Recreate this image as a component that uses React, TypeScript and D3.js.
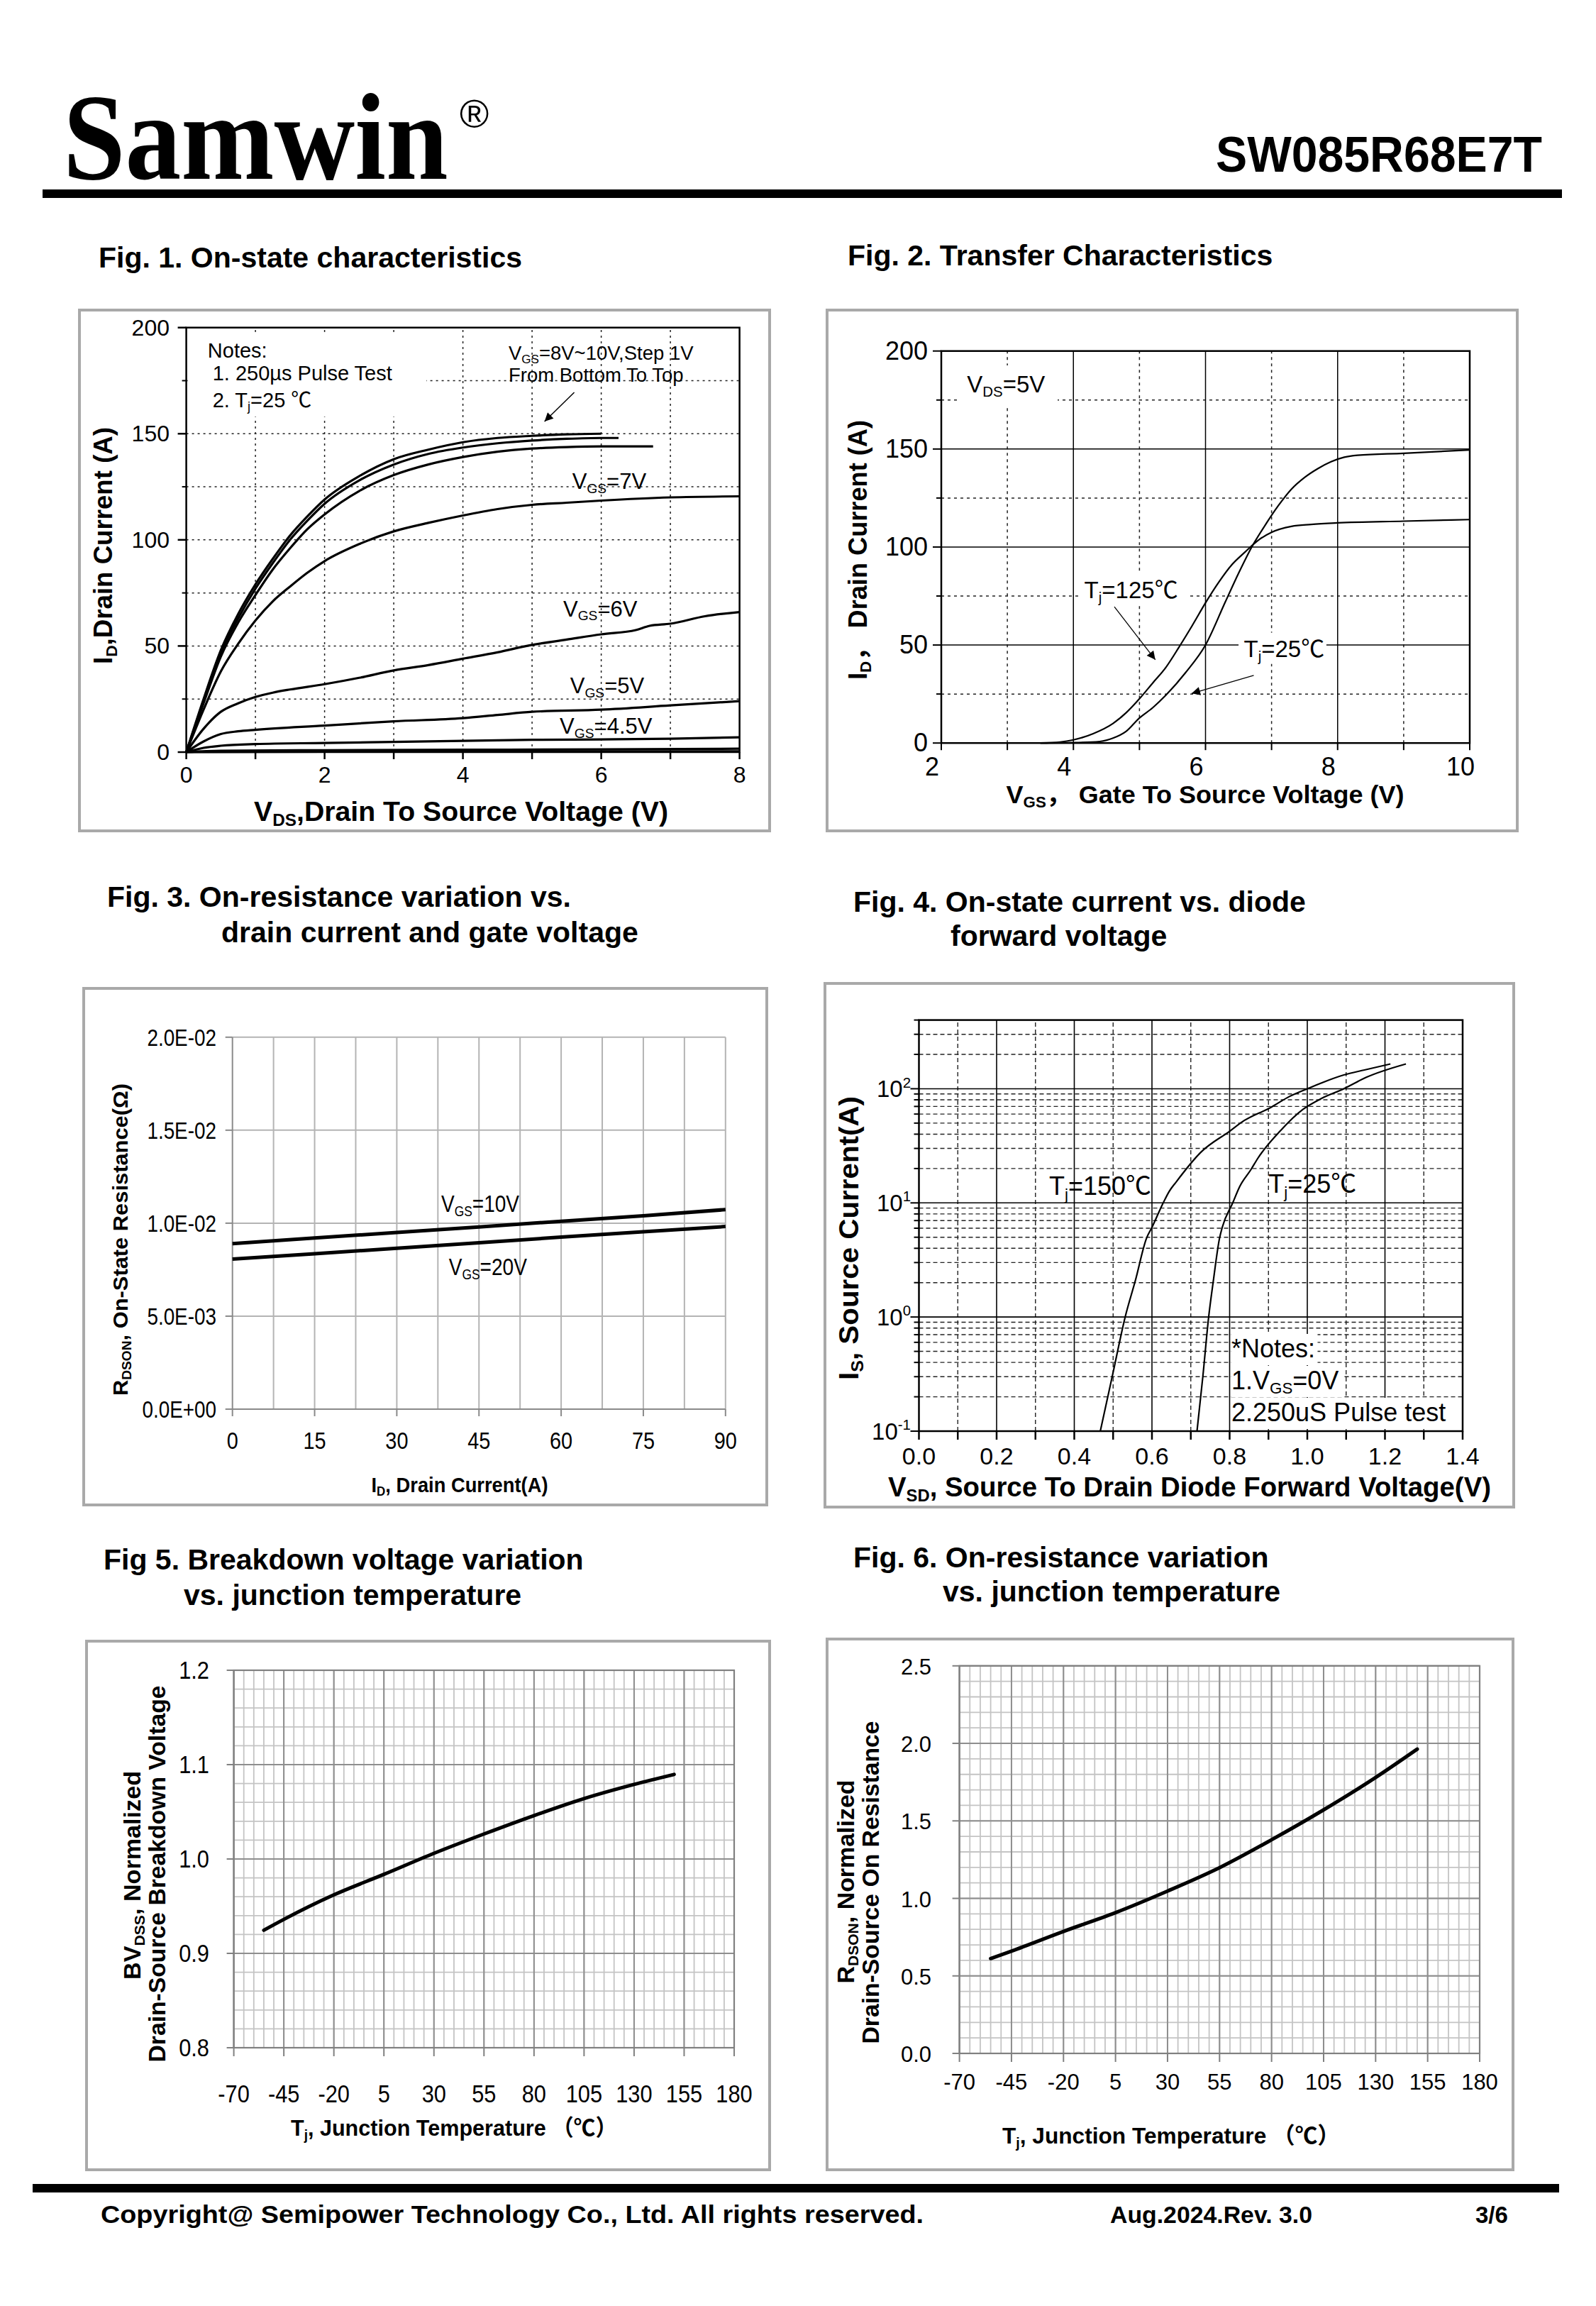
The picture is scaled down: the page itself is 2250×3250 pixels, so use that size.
import React from 'react';
import * as d3 from 'd3';

const SANS = "'Liberation Sans', Arial, 'Noto Sans CJK SC', sans-serif";
const SERIF = "'Liberation Serif', 'Times New Roman', serif";

type Seg = { t: string; s?: 'sub' | 'sup' };
type Pt = number[];

// ---------------- Fig. 1 : On-state characteristics (VDS V, ID A) ----------------
const fig1XTicks = [0, 2, 4, 6, 8];
const fig1YTicks = [0, 50, 100, 150, 200];
const fig1Vgs10: Pt[] = [[0,0],[0.25,25],[0.5,48],[0.75,65],[1,79],[1.25,91],[1.5,102],[1.75,111],[2,119],[2.5,130],[3,138],[3.5,142.5],[4,146],[4.5,148],[5,149],[5.5,149.7],[6,150]];
const fig1Vgs9: Pt[] = [[0,0],[0.25,24],[0.5,47],[0.75,63],[1,77],[1.25,89],[1.5,100],[1.75,109],[2,117],[2.5,128],[3,135.5],[3.5,140.5],[4,143.5],[4.5,145.5],[5,146.8],[5.5,147.6],[6,148],[6.25,148]];
const fig1Vgs8: Pt[] = [[0,0],[0.25,23],[0.5,45],[0.75,61],[1,74],[1.25,86],[1.5,96],[1.75,105],[2,112],[2.5,123],[3,130.5],[3.5,135.5],[4,139],[4.5,141.5],[5,143],[5.5,143.7],[6,144],[6.75,144]];
const fig1Vgs7: Pt[] = [[0,0],[0.25,20],[0.5,38],[0.75,51],[1,62],[1.25,71],[1.5,78],[1.75,84.5],[2,90],[2.5,98],[3,104],[3.5,108],[4,111.5],[4.5,114.5],[5,116.5],[5.5,117.5],[6,118.5],[7,120],[8,120.5]];
const fig1Vgs6: Pt[] = [[0,0],[0.25,11],[0.5,19],[0.75,23],[1,26],[1.25,28],[1.5,29.5],[2,32],[2.5,35],[3,38.5],[3.5,41],[4,44],[4.5,47],[5,50.5],[5.5,53],[6,55.5],[6.5,57.5],[6.7,59.5],[7,60.5],[7.5,64],[8,66]];
const fig1Vgs5: Pt[] = [[0,0],[0.25,5],[0.5,8.5],[0.75,9.8],[1,10.5],[2,12.5],[3,14.5],[4,16],[4.5,17.5],[5,19],[6,20],[7,22],[8,24]];
const fig1Vgs45: Pt[] = [[0,0],[0.25,2],[0.5,3],[1,3.8],[2,4.3],[3,4.8],[4,5.3],[5,5.8],[6,6],[7,6.3],[8,7]];
const fig1Vgs4: Pt[] = [[0,0],[0.5,0.6],[2,0.9],[4,1.1],[6,1.3],[8,1.6]];
const fig1Vgs35: Pt[] = [[0,0],[2,0.2],[4,0.3],[8,0.4]];
const fig1Curves = [fig1Vgs10, fig1Vgs9, fig1Vgs8, fig1Vgs7, fig1Vgs6, fig1Vgs5, fig1Vgs45, fig1Vgs4, fig1Vgs35];
const fig1CurveLabels = [
  { x: 5.58, y: 124, segs: [{ t: 'V' }, { t: 'GS', s: 'sub' }, { t: '=7V' }] as Seg[] },
  { x: 5.45, y: 64, segs: [{ t: 'V' }, { t: 'GS', s: 'sub' }, { t: '=6V' }] as Seg[] },
  { x: 5.55, y: 27.6, segs: [{ t: 'V' }, { t: 'GS', s: 'sub' }, { t: '=5V' }] as Seg[] },
  { x: 5.4, y: 8.7, segs: [{ t: 'V' }, { t: 'GS', s: 'sub' }, { t: '=4.5V' }] as Seg[] },
];
const fig1Notes = [
  { x: 0.31, y: 185.8, fs: 29, segs: [{ t: 'Notes:' }] as Seg[] },
  { x: 0.38, y: 175, fs: 29, segs: [{ t: '1. 250\u00b5s  Pulse Test' }] as Seg[] },
  { x: 0.38, y: 162.5, fs: 29, segs: [{ t: '2. T' }, { t: 'j', s: 'sub' }, { t: '=25 \u2103' }] as Seg[] },
  { x: 4.66, y: 184.8, fs: 27.5, segs: [{ t: 'V' }, { t: 'GS', s: 'sub' }, { t: '=8V~10V,Step 1V' }] as Seg[] },
  { x: 4.66, y: 174.5, fs: 27.5, segs: [{ t: 'From Bottom To Top' }] as Seg[] },
];
const fig1Arrow = [[5.61, 169.5], [5.18, 155.8]];

// ---------------- Fig. 2 : Transfer characteristics (VGS V, ID A) ----------------
const fig2XTicks = [2, 4, 6, 8, 10];
const fig2YTicks = [0, 50, 100, 150, 200];
const fig2Tj25: Pt[] = [[3.5,0],[4,0.2],[4.4,0.8],[4.6,2.5],[4.8,6],[5,12.8],[5.2,18],[5.4,24.4],[5.7,36],[6,50],[6.3,72],[6.5,86.6],[6.7,100],[6.9,111],[7.1,121],[7.3,129.5],[7.5,135.5],[7.7,140],[7.9,143.5],[8.1,145.8],[8.3,146.8],[9,147.8],[10,149.5]];
const fig2Tj125: Pt[] = [[3.5,0],[3.8,0.5],[4,1.6],[4.3,4.8],[4.6,10],[4.8,15.5],[5,22.6],[5.2,30.6],[5.4,38.6],[5.6,49],[5.8,60],[6,71.5],[6.2,82],[6.4,91],[6.6,97.5],[6.8,103.5],[7,107.5],[7.3,110.5],[7.6,111.5],[8,112.3],[9,113.2],[10,114]];
const fig2Labels = [
  { x: 2.39, y: 179, segs: [{ t: 'V' }, { t: 'DS', s: 'sub' }, { t: '=5V' }] as Seg[] },
  { x: 4.165, y: 73.8, segs: [{ t: 'T' }, { t: 'j', s: 'sub' }, { t: '=125\u2103' }] as Seg[] },
  { x: 6.58, y: 43.8, segs: [{ t: 'T' }, { t: 'j', s: 'sub' }, { t: '=25\u2103' }] as Seg[] },
];
const fig2Arrows = [[[4.62, 69.5], [5.24, 42.5]], [[6.73, 34.5], [5.79, 25.3]]];

// ---------------- Fig. 3 : RDS(on) vs ID (A, ohm) ----------------
const fig3XTicks = [0, 15, 30, 45, 60, 75, 90];
const fig3YTicks = [0, 0.005, 0.01, 0.015, 0.02];
const fig3YTickLabels = ['0.0E+00', '5.0E-03', '1.0E-02', '1.5E-02', '2.0E-02'];
const fig3Vgs10: Pt[] = [[0,0.0089],[15,0.0092],[30,0.0095],[45,0.0098],[60,0.0101],[75,0.0104],[90,0.01073]];
const fig3Vgs20: Pt[] = [[0,0.00807],[15,0.00836],[30,0.00865],[45,0.00895],[60,0.00925],[75,0.00954],[90,0.00982]];
const fig3Labels = [
  { x: 38.1, y: 0.0106, segs: [{ t: 'V' }, { t: 'GS', s: 'sub' }, { t: '=10V' }] as Seg[] },
  { x: 39.5, y: 0.00721, segs: [{ t: 'V' }, { t: 'GS', s: 'sub' }, { t: '=20V' }] as Seg[] },
];

// ---------------- Fig. 4 : body diode (VSD V, IS A log) ----------------
const fig4XTicks = [0, 0.2, 0.4, 0.6, 0.8, 1.0, 1.2, 1.4];
const fig4YDecades = [0.1, 1, 10, 100];
const fig4YExp = ['-1', '0', '1', '2'];
const fig4Tj150: Pt[] = [[0.467,0.1],[0.499,0.316],[0.531,1.0],[0.557,2.07],[0.586,4.9],[0.6,6.1],[0.629,10],[0.645,12.7],[0.662,15.2],[0.726,27.8],[0.802,42.9],[0.831,50.9],[0.907,68.9],[0.954,85.5],[1.0,100],[1.094,132],[1.147,146],[1.214,165]];
const fig4Tj25: Pt[] = [[0.716,0.1],[0.731,0.3],[0.746,1.0],[0.758,2.07],[0.774,4.9],[0.781,6.1],[0.808,10],[0.826,13.9],[0.855,19.6],[0.872,24.4],[0.931,42.9],[0.989,66],[1.036,82],[1.094,100],[1.152,126],[1.254,165]];
const fig4Labels = [
  { x: 0.335, y: 11.7, segs: [{ t: 'T' }, { t: 'j', s: 'sub' }, { t: '=150\u2103' }] as Seg[] },
  { x: 0.9, y: 12.2, segs: [{ t: 'T' }, { t: 'j', s: 'sub' }, { t: '=25\u2103' }] as Seg[] },
];
const fig4Notes = [
  { segs: [{ t: '*Notes:' }] as Seg[], w: 122 },
  { segs: [{ t: '1.V' }, { t: 'GS', s: 'sub' }, { t: '=0V' }] as Seg[], w: 158 },
  { segs: [{ t: '2.250uS Pulse test' }] as Seg[], w: 326 },
];

// ---------------- Fig. 5 : BVDSS vs Tj ----------------
const fig5XTicks = [-70, -45, -20, 5, 30, 55, 80, 105, 130, 155, 180];
const fig5YTicks = [0.8, 0.9, 1.0, 1.1, 1.2];
const fig5Curve: Pt[] = [[-55,0.9245],[-45,0.936],[-20,0.962],[5,0.9837],[30,1.006],[55,1.0265],[80,1.046],[105,1.064],[130,1.079],[150,1.0896]];

// ---------------- Fig. 6 : RDS(on) normalized vs Tj ----------------
const fig6XTicks = [-70, -45, -20, 5, 30, 55, 80, 105, 130, 155, 180];
const fig6YTicks = [0, 0.5, 1.0, 1.5, 2.0, 2.5];
const fig6Curve: Pt[] = [[-55,0.612],[-45,0.66],[-20,0.787],[5,0.908],[30,1.047],[55,1.198],[80,1.378],[105,1.571],[130,1.78],[150,1.963]];

// ---------------- helpers ----------------
function rich(list: Seg[], fs: number) {
  let shift = 0;
  return list.map((seg, i) => {
    const target = seg.s === 'sub' ? fs * 0.18 : seg.s === 'sup' ? -fs * 0.42 : 0;
    const dy = target - shift;
    shift = target;
    return (
      <tspan key={i} dy={dy} fontSize={seg.s ? fs * 0.62 : fs}>
        {seg.t}
      </tspan>
    );
  });
}

function RText(p: {
  x: number; y: number; segs: Seg[]; fs: number; anchor?: string; weight?: string;
  family?: string; rotate?: boolean; len?: number; sx?: number;
}) {
  const { x, y, segs, fs, anchor = 'start', weight = 'normal', family = SANS, rotate = false, len, sx = 1 } = p;
  const tf = rotate ? `translate(${x},${y}) rotate(-90)` : `translate(${x},${y}) scale(${sx},1)`;
  return (
    <text
      x={0}
      y={0}
      transform={tf}
      fontSize={fs}
      fontFamily={family}
      fontWeight={weight}
      textAnchor={anchor}
      textLength={len}
      lengthAdjust={len ? 'spacingAndGlyphs' : undefined}
      fill="#000"
    >
      {rich(segs, fs)}
    </text>
  );
}

function NText(p: { x: number; y: number; text: string; fs: number; anchor?: string; sx?: number }) {
  const { x, y, text, fs, anchor = 'start', sx = 1 } = p;
  return (
    <text x={0} y={0} transform={`translate(${x},${y}) scale(${sx},1)`} fontSize={fs} fontFamily={SANS} textAnchor={anchor} fill="#000">
      {text}
    </text>
  );
}

function Title({ x, y, text }: { x: number; y: number; text: string }) {
  return (
    <text x={x} y={y} fontSize={41} fontWeight="bold" fontFamily={SANS} fill="#000">
      {text}
    </text>
  );
}

function Frame({ x, y, w, h }: { x: number; y: number; w: number; h: number }) {
  return <rect x={x} y={y} width={w} height={h} fill="none" stroke="#a9a9a9" strokeWidth={4} />;
}

// ---------------- Fig 1 ----------------
function Fig1() {
  const x = d3.scaleLinear().domain([0, 8]).range([262.6, 1042.6]);
  const y = d3.scaleLinear().domain([0, 200]).range([1060, 461.7]);
  const line = d3.line<Pt>().x(d => x(d[0])).y(d => y(d[1])).curve(d3.curveMonotoneX);
  return (
    <g>
      <Title x={139} y={377} text="Fig. 1. On-state characteristics" />
      <Frame x={112} y={437} w={973} h={734} />
      {d3.range(1, 8).map(v => (
        <line key={'gx' + v} x1={x(v)} x2={x(v)} y1={y(0)} y2={y(200)} stroke="#222" strokeWidth={1.5} strokeDasharray="3 5" />
      ))}
      {d3.range(25, 200, 25).map(v => (
        <line key={'gy' + v} x1={x(0)} x2={x(8)} y1={y(v)} y2={y(v)} stroke="#222" strokeWidth={1.5} strokeDasharray="3 5" />
      ))}
      <rect x={x(0) + 2} y={y(196.5)} width={x(3.45) - x(0)} height={y(158) - y(196.5)} fill="#fff" />
      {fig1Curves.map((c, i) => (
        <path key={'c' + i} d={line(c) || ''} fill="none" stroke="#000" strokeWidth={3.2} />
      ))}
      <rect x={x(0)} y={y(200)} width={x(8) - x(0)} height={y(0) - y(200)} fill="none" stroke="#000" strokeWidth={2.5} />
      {fig1YTicks.map(v => (
        <g key={'yt' + v}>
          <line x1={x(0) - 12} x2={x(0)} y1={y(v)} y2={y(v)} stroke="#000" strokeWidth={2.5} />
          <text x={239} y={y(v) + 11} fontSize={32} fontFamily={SANS} textAnchor="end">{v}</text>
        </g>
      ))}
      {d3.range(25, 200, 50).map(v => (
        <line key={'ytm' + v} x1={x(0) - 6} x2={x(0)} y1={y(v)} y2={y(v)} stroke="#000" strokeWidth={2} />
      ))}
      {d3.range(0, 9).map(v => (
        <line key={'xt' + v} x1={x(v)} x2={x(v)} y1={y(0)} y2={y(0) + 10} stroke="#000" strokeWidth={2.5} />
      ))}
      {fig1XTicks.map(v => (
        <text key={'xl' + v} x={x(v)} y={1103} fontSize={32} fontFamily={SANS} textAnchor="middle">{v}</text>
      ))}
      {fig1CurveLabels.map((l, i) => (
        <RText key={'cl' + i} x={x(l.x)} y={y(l.y)} segs={l.segs} fs={31} />
      ))}
      {fig1Notes.map((l, i) => (
        <RText key={'n' + i} x={x(l.x)} y={y(l.y)} segs={l.segs} fs={l.fs} />
      ))}
      <line x1={x(fig1Arrow[0][0])} y1={y(fig1Arrow[0][1])} x2={x(fig1Arrow[1][0])} y2={y(fig1Arrow[1][1])} stroke="#000" strokeWidth={1.5} markerEnd="url(#ah)" />
      <RText x={158} y={769} rotate anchor="middle" weight="bold" fs={37} len={334}
        segs={[{ t: 'I' }, { t: 'D', s: 'sub' }, { t: ',Drain Current (A)' }]} />
      <RText x={650} y={1157} anchor="middle" weight="bold" fs={38} len={584}
        segs={[{ t: 'V' }, { t: 'DS', s: 'sub' }, { t: ',Drain To Source Voltage (V)' }]} />
    </g>
  );
}

// ---------------- Fig 2 ----------------
function Fig2() {
  const x = d3.scaleLinear().domain([2, 10]).range([1327, 2072]);
  const y = d3.scaleLinear().domain([0, 200]).range([1047.2, 494.7]);
  const line = d3.line<Pt>().x(d => x(d[0])).y(d => y(d[1])).curve(d3.curveMonotoneX);
  const labelBoxes = [
    { x0: 1351, x1: 1491, y0: 515, y1: 572 },
    { x0: x(4.1), x1: x(5.72), y0: y(74) - 34, y1: y(74) + 10 },
    { x0: x(6.5), x1: x(7.83), y0: y(44) - 34, y1: y(44) + 10 },
  ];
  return (
    <g>
      <Title x={1195} y={374} text="Fig. 2. Transfer Characteristics" />
      <Frame x={1166} y={437} w={973} h={734} />
      {[3, 5, 7, 9].map(v => (
        <line key={'gxm' + v} x1={x(v)} x2={x(v)} y1={y(0)} y2={y(200)} stroke="#222" strokeWidth={1.5} strokeDasharray="4 5" />
      ))}
      {[25, 75, 125, 175].map(v => (
        <line key={'gym' + v} x1={x(2)} x2={x(10)} y1={y(v)} y2={y(v)} stroke="#222" strokeWidth={1.5} strokeDasharray="4 5" />
      ))}
      {[4, 6, 8].map(v => (
        <line key={'gx' + v} x1={x(v)} x2={x(v)} y1={y(0)} y2={y(200)} stroke="#000" strokeWidth={1.5} />
      ))}
      {[50, 100, 150].map(v => (
        <line key={'gy' + v} x1={x(2)} x2={x(10)} y1={y(v)} y2={y(v)} stroke="#000" strokeWidth={1.5} />
      ))}
      {labelBoxes.map((b, i) => (
        <rect key={'lb' + i} x={b.x0} y={b.y0} width={b.x1 - b.x0} height={b.y1 - b.y0} fill="#fff" />
      ))}
      <path d={line(fig2Tj25) || ''} fill="none" stroke="#000" strokeWidth={2.2} />
      <path d={line(fig2Tj125) || ''} fill="none" stroke="#000" strokeWidth={2.2} />
      <rect x={x(2)} y={y(200)} width={x(10) - x(2)} height={y(0) - y(200)} fill="none" stroke="#000" strokeWidth={2.5} />
      {d3.range(0, 201, 25).map(v => (
        <line key={'yt' + v} x1={x(2) - (v % 50 === 0 ? 12 : 7)} x2={x(2)} y1={y(v)} y2={y(v)} stroke="#000" strokeWidth={2} />
      ))}
      {d3.range(2, 11).map(v => (
        <line key={'xt' + v} x1={x(v)} x2={x(v)} y1={y(0)} y2={y(0) + 10} stroke="#000" strokeWidth={2} />
      ))}
      {fig2YTicks.map(v => (
        <text key={'yl' + v} x={1308} y={y(v) + 12} fontSize={36} fontFamily={SANS} textAnchor="end">{v}</text>
      ))}
      {fig2XTicks.map(v => (
        <text key={'xl' + v} x={x(v) - 13} y={1093} fontSize={36} fontFamily={SANS} textAnchor="middle">{v}</text>
      ))}
      {fig2Labels.map((l, i) => (
        <RText key={'l' + i} x={x(l.x)} y={y(l.y)} segs={l.segs} fs={33} />
      ))}
      {fig2Arrows.map((a, i) => (
        <line key={'a' + i} x1={x(a[0][0])} y1={y(a[0][1])} x2={x(a[1][0])} y2={y(a[1][1])} stroke="#000" strokeWidth={1.3} markerEnd="url(#ah)" />
      ))}
      <RText x={1222} y={775} rotate anchor="middle" weight="bold" fs={36} len={366}
        segs={[{ t: 'I' }, { t: 'D', s: 'sub' }, { t: '\uff0c  Drain Current (A)' }]} />
      <RText x={1699} y={1132} anchor="middle" weight="bold" fs={35} len={561}
        segs={[{ t: 'V' }, { t: 'GS', s: 'sub' }, { t: '\uff0c  Gate To Source Voltage (V)' }]} />
    </g>
  );
}

// ---------------- Fig 3 ----------------
function Fig3() {
  const x = d3.scaleLinear().domain([0, 90]).range([327.7, 1022.8]);
  const y = d3.scaleLinear().domain([0, 0.02]).range([1986, 1461.8]);
  const line = d3.line<Pt>().x(d => x(d[0])).y(d => y(d[1]));
  return (
    <g>
      <Title x={151} y={1278} text="Fig. 3. On-resistance variation vs." />
      <Title x={312} y={1328} text="drain current and gate voltage" />
      <Frame x={118} y={1393} w={963} h={728} />
      {d3.range(7.5, 90.1, 7.5).map(v => (
        <line key={'gx' + v} x1={x(v)} x2={x(v)} y1={y(0)} y2={y(0.02)} stroke="#b4b4b4" strokeWidth={2} />
      ))}
      {fig3YTicks.slice(1).map(v => (
        <line key={'gy' + v} x1={x(0)} x2={x(90)} y1={y(v)} y2={y(v)} stroke="#b4b4b4" strokeWidth={2} />
      ))}
      <line x1={x(0)} x2={x(0)} y1={y(0)} y2={y(0.02)} stroke="#8a8a8a" strokeWidth={2} />
      <line x1={x(0)} x2={x(90)} y1={y(0)} y2={y(0)} stroke="#8a8a8a" strokeWidth={2} />
      {fig3YTicks.map(v => (
        <line key={'yt' + v} x1={x(0) - 10} x2={x(0)} y1={y(v)} y2={y(v)} stroke="#8a8a8a" strokeWidth={2} />
      ))}
      {fig3XTicks.map(v => (
        <line key={'xt' + v} x1={x(v)} x2={x(v)} y1={y(0)} y2={y(0) + 10} stroke="#8a8a8a" strokeWidth={2} />
      ))}
      {fig3YTicks.map((v, i) => (
        <NText key={'yl' + v} x={305} y={y(v) + 12} text={fig3YTickLabels[i]} fs={34} anchor="end" sx={0.82} />
      ))}
      {fig3XTicks.map(v => (
        <NText key={'xl' + v} x={x(v)} y={2042} text={String(v)} fs={34} anchor="middle" sx={0.85} />
      ))}
      <path d={line(fig3Vgs10) || ''} fill="none" stroke="#000" strokeWidth={5} />
      <path d={line(fig3Vgs20) || ''} fill="none" stroke="#000" strokeWidth={5} />
      {fig3Labels.map((l, i) => (
        <RText key={'l' + i} x={x(l.x)} y={y(l.y)} segs={l.segs} fs={33} sx={0.85} />
      ))}
      <RText x={180} y={1747} rotate anchor="middle" weight="bold" fs={30} len={440}
        segs={[{ t: 'R' }, { t: 'DSON', s: 'sub' }, { t: ', On-State Resistance(\u03a9)' }]} />
      <RText x={648} y={2103} anchor="middle" weight="bold" fs={30} len={249}
        segs={[{ t: 'I' }, { t: 'D', s: 'sub' }, { t: ', Drain Current(A)' }]} />
    </g>
  );
}

// ---------------- Fig 4 ----------------
function Fig4() {
  const x = d3.scaleLinear().domain([0, 1.4]).range([1295.5, 2062]);
  const y = d3.scaleLog().domain([0.1, 400]).range([2017, 1437.6]);
  const line = d3.line<Pt>().x(d => x(d[0])).y(d => y(d[1])).curve(d3.curveMonotoneX);
  const minorY: number[] = [];
  fig4YDecades.forEach(d => { for (let m = 2; m <= 9; m++) if (m * d < 400) minorY.push(m * d); });
  const allY = [...fig4YDecades, ...minorY, 400];
  const noteX = 1736;
  const noteBase = [1913, 1958, 2003];
  return (
    <g>
      <Title x={1203} y={1285} text="Fig. 4. On-state current vs. diode" />
      <Title x={1340} y={1333} text="forward voltage" />
      <Frame x={1163} y={1386} w={971} h={738} />
      {d3.range(1, 14, 2).map(k => (
        <line key={'gxm' + k} x1={x(k / 10)} x2={x(k / 10)} y1={y(0.1)} y2={y(400)} stroke="#222" strokeWidth={1.4} strokeDasharray="6 4" />
      ))}
      {minorY.map(v => (
        <line key={'gym' + v} x1={x(0)} x2={x(1.4)} y1={y(v)} y2={y(v)} stroke="#222" strokeWidth={1.4} strokeDasharray="6 4" />
      ))}
      {[0.2, 0.4, 0.6, 0.8, 1.0, 1.2].map(v => (
        <line key={'gx' + v} x1={x(v)} x2={x(v)} y1={y(0.1)} y2={y(400)} stroke="#000" strokeWidth={1.6} />
      ))}
      {[1, 10, 100].map(v => (
        <line key={'gy' + v} x1={x(0)} x2={x(1.4)} y1={y(v)} y2={y(v)} stroke="#000" strokeWidth={1.6} />
      ))}
      {fig4Notes.map((n, i) => (
        <rect key={'nb' + i} x={x(0.8) + 2} y={noteBase[i] - 33} width={n.w} height={44} fill="#fff" />
      ))}
      <path d={line(fig4Tj150) || ''} fill="none" stroke="#000" strokeWidth={2.2} />
      <path d={line(fig4Tj25) || ''} fill="none" stroke="#000" strokeWidth={2.2} />
      <rect x={x(0)} y={y(400)} width={x(1.4) - x(0)} height={y(0.1) - y(400)} fill="none" stroke="#000" strokeWidth={2.5} />
      {d3.range(0, 15).map(k => (
        <line key={'xt' + k} x1={x(k / 10)} x2={x(k / 10)} y1={y(0.1)} y2={y(0.1) + 12} stroke="#000" strokeWidth={2.5} />
      ))}
      {allY.map(v => (
        <line key={'yt' + v} x1={x(0) - (fig4YDecades.includes(v) ? 12 : 7)} x2={x(0)} y1={y(v)} y2={y(v)} stroke="#000" strokeWidth={2} />
      ))}
      {fig4YDecades.map((v, i) => (
        <RText key={'yl' + v} x={1284} y={y(v) + 12} anchor="end" fs={33}
          segs={[{ t: '10' }, { t: fig4YExp[i], s: 'sup' }]} />
      ))}
      {fig4XTicks.map(v => (
        <text key={'xl' + v} x={x(v)} y={2064} fontSize={34} fontFamily={SANS} textAnchor="middle">{v.toFixed(1)}</text>
      ))}
      {fig4Labels.map((l, i) => (
        <RText key={'l' + i} x={x(l.x)} y={y(l.y)} segs={l.segs} fs={36} />
      ))}
      {fig4Notes.map((n, i) => (
        <RText key={'n' + i} x={noteX} y={noteBase[i]} segs={n.segs} fs={36} />
      ))}
      <RText x={1210} y={1745} rotate anchor="middle" weight="bold" fs={39} len={400}
        segs={[{ t: 'I' }, { t: 'S', s: 'sub' }, { t: ', Source Current(A)' }]} />
      <RText x={1677} y={2109} anchor="middle" weight="bold" fs={38} len={850}
        segs={[{ t: 'V' }, { t: 'SD', s: 'sub' }, { t: ', Source To Drain Diode Forward Voltage(V)' }]} />
    </g>
  );
}

// ---------------- Fig 5 & 6 (grid paper charts) ----------------
function GridChart(p: {
  xr: number[]; yr: number[]; ydom: number[]; yMinorStep: number; yMajorStep: number;
  xTicks: number[]; yTicks: number[]; curve: Pt[]; yFmt: (v: number) => string;
  yLabelX: number; xLabelY: number; tickFs: number; tickSx: number;
}) {
  const x = d3.scaleLinear().domain([-70, 180]).range(p.xr);
  const y = d3.scaleLinear().domain(p.ydom).range(p.yr);
  const line = d3.line<Pt>().x(d => x(d[0])).y(d => y(d[1])).curve(d3.curveMonotoneX);
  const nY = Math.round((p.ydom[1] - p.ydom[0]) / p.yMinorStep);
  const yMinor = d3.range(0, nY + 1).map(k => p.ydom[0] + k * p.yMinorStep);
  const xMinor = d3.range(-70, 181, 5);
  const isMajorY = (v: number) => Math.abs(Math.round((v - p.ydom[0]) / p.yMajorStep) * p.yMajorStep - (v - p.ydom[0])) < 1e-6;
  return (
    <g>
      {xMinor.map(v => (
        <line key={'gxm' + v} x1={x(v)} x2={x(v)} y1={y(p.ydom[0])} y2={y(p.ydom[1])} stroke="#c4c4c4" strokeWidth={1.8} />
      ))}
      {yMinor.map(v => (
        <line key={'gym' + v} x1={x(-70)} x2={x(180)} y1={y(v)} y2={y(v)} stroke="#c4c4c4" strokeWidth={1.8} />
      ))}
      {p.xTicks.map(v => (
        <line key={'gx' + v} x1={x(v)} x2={x(v)} y1={y(p.ydom[0])} y2={y(p.ydom[1])} stroke="#8e8e8e" strokeWidth={2} />
      ))}
      {yMinor.filter(isMajorY).map(v => (
        <line key={'gy' + v} x1={x(-70)} x2={x(180)} y1={y(v)} y2={y(v)} stroke="#8e8e8e" strokeWidth={2} />
      ))}
      <rect x={x(-70)} y={y(p.ydom[1])} width={x(180) - x(-70)} height={y(p.ydom[0]) - y(p.ydom[1])} fill="none" stroke="#808080" strokeWidth={2.2} />
      {p.xTicks.map(v => (
        <line key={'xt' + v} x1={x(v)} x2={x(v)} y1={y(p.ydom[0])} y2={y(p.ydom[0]) + 12} stroke="#808080" strokeWidth={2} />
      ))}
      {p.yTicks.map(v => (
        <line key={'yt' + v} x1={x(-70) - 10} x2={x(-70)} y1={y(v)} y2={y(v)} stroke="#808080" strokeWidth={2} />
      ))}
      {p.yTicks.map(v => (
        <NText key={'yl' + v} x={p.yLabelX} y={y(v) + 12} text={p.yFmt(v)} fs={p.tickFs} anchor="end" sx={p.tickSx} />
      ))}
      {p.xTicks.map(v => (
        <NText key={'xl' + v} x={x(v)} y={p.xLabelY} text={String(v)} fs={p.tickFs} anchor="middle" sx={p.tickSx} />
      ))}
      <path d={line(p.curve) || ''} fill="none" stroke="#000" strokeWidth={5} strokeLinecap="round" />
    </g>
  );
}

function Fig5() {
  return (
    <g>
      <Title x={146} y={2212} text="Fig 5. Breakdown voltage variation" />
      <Title x={259} y={2262} text="vs. junction temperature" />
      <Frame x={122} y={2313} w={963} h={745} />
      <GridChart xr={[329.6, 1035]} yr={[2886, 2354]} ydom={[0.8, 1.2]} yMinorStep={0.02} yMajorStep={0.1}
        xTicks={fig5XTicks} yTicks={fig5YTicks} curve={fig5Curve} yFmt={v => v.toFixed(1)}
        yLabelX={295} xLabelY={2963} tickFs={35} tickSx={0.88} />
      <RText x={198} y={2643} rotate anchor="middle" weight="bold" fs={34} len={294}
        segs={[{ t: 'BV' }, { t: 'DSS', s: 'sub' }, { t: ', Normalized' }]} />
      <RText x={233} y={2641} rotate anchor="middle" weight="bold" fs={34} len={531}
        segs={[{ t: 'Drain-Source Breakdown Voltage' }]} />
      <RText x={640} y={3010} anchor="middle" weight="bold" fs={32} len={460}
        segs={[{ t: 'T' }, { t: 'j', s: 'sub' }, { t: ', Junction Temperature \uff08\u2103\uff09' }]} />
    </g>
  );
}

function Fig6() {
  return (
    <g>
      <Title x={1203} y={2209} text="Fig. 6. On-resistance variation" />
      <Title x={1329} y={2257} text="vs. junction temperature" />
      <Frame x={1166} y={2310} w={967} h={748} />
      <GridChart xr={[1352.6, 2086]} yr={[2894, 2347.8]} ydom={[0, 2.5]} yMinorStep={0.1} yMajorStep={0.5}
        xTicks={fig6XTicks} yTicks={fig6YTicks} curve={fig6Curve} yFmt={v => v.toFixed(1)}
        yLabelX={1313} xLabelY={2945} tickFs={31} tickSx={1} />
      <RText x={1204} y={2652} rotate anchor="middle" weight="bold" fs={34} len={287}
        segs={[{ t: 'R' }, { t: 'DSON', s: 'sub' }, { t: ', Normalized' }]} />
      <RText x={1239} y={2653} rotate anchor="middle" weight="bold" fs={34} len={455}
        segs={[{ t: 'Drain-Source  On Resistance' }]} />
      <RText x={1651} y={3021} anchor="middle" weight="bold" fs={32} len={476}
        segs={[{ t: 'T' }, { t: 'j', s: 'sub' }, { t: ', Junction Temperature \uff08\u2103\uff09' }]} />
    </g>
  );
}

function Header() {
  return (
    <g>
      <text x={0} y={0} transform="translate(89,252) scale(0.905,1)" fontSize={174} fontWeight="bold" fontFamily={SERIF}>Samwin</text>
      <text x={648} y={180} fontSize={56} fontFamily={SANS}>{'\u00ae'}</text>
      <text x={2174} y={242} fontSize={70} fontWeight="bold" fontFamily={SANS} textAnchor="end" textLength={460} lengthAdjust="spacingAndGlyphs">SW085R68E7T</text>
      <rect x={60} y={267} width={2142} height={12} fill="#000" />
    </g>
  );
}

function Footer() {
  return (
    <g>
      <rect x={46} y={3078} width={2152} height={12} fill="#000" />
      <text x={142} y={3133} fontSize={35} fontWeight="bold" fontFamily={SANS} textLength={1160} lengthAdjust="spacingAndGlyphs">Copyright@ Semipower Technology Co., Ltd. All rights reserved.</text>
      <text x={1565} y={3133} fontSize={33} fontWeight="bold" fontFamily={SANS} textLength={285} lengthAdjust="spacingAndGlyphs">Aug.2024.Rev. 3.0</text>
      <text x={2080} y={3133} fontSize={33} fontWeight="bold" fontFamily={SANS}>3/6</text>
    </g>
  );
}

export default function App() {
  return (
    <svg width={2250} height={3250} viewBox="0 0 2250 3250" style={{ position: 'absolute', left: 0, top: 0, background: '#fff' }}>
      <defs>
        <marker id="ah" viewBox="0 0 10 10" refX={10} refY={5} markerUnits="userSpaceOnUse" markerWidth={18} markerHeight={12} orient="auto">
          <path d="M0,0 L10,5 L0,10 z" fill="#000" />
        </marker>
      </defs>
      <rect x={0} y={0} width={2250} height={3250} fill="#fff" />
      <Header />
      <Fig1 />
      <Fig2 />
      <Fig3 />
      <Fig4 />
      <Fig5 />
      <Fig6 />
      <Footer />
    </svg>
  );
}
